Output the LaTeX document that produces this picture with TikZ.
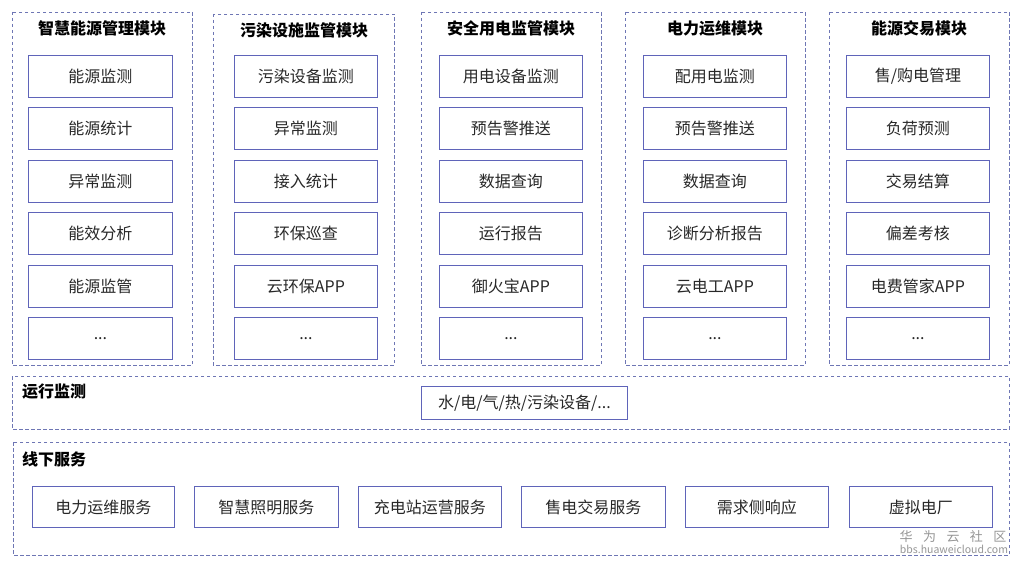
\documentclass[tikz,border=0pt]{standalone}
\usepackage{fontspec}
\setmainfont{Noto Sans CJK SC}
\definecolor{dashc}{RGB}{110,118,180}
\definecolor{boxc}{RGB}{95,100,185}
\definecolor{txtc}{RGB}{40,40,40}
\definecolor{wmc}{RGB}{150,150,150}
\newcommand{\myell}{...}
\tikzset{
  grp/.style={draw=dashc, line width=0.8pt, dash pattern=on 3.5pt off 2.5pt},
  itembox/.style={draw=boxc, line width=0.9pt, fill=white, inner sep=0pt, text=txtc, font=\fontsize{16}{18}\selectfont},
  ttl/.style={font=\fontsize{16}{19}\selectfont\bfseries, text=black, inner sep=0pt},
}
\begin{document}
\begin{tikzpicture}[x=1pt,y=-1pt]
\useasboundingbox (0,0) rectangle (1022,569);
\fill[white] (0,0) rectangle (1022,569);
% module groups
\draw[grp] (12,12) rectangle (192,365);
\draw[grp] (213,14) rectangle (394,365);
\draw[grp] (421,12) rectangle (601,365);
\draw[grp] (625,12) rectangle (805,365);
\draw[grp] (829,12) rectangle (1009,365);
\node[ttl] (t1) at (102,28) {智慧能源管理模块};
\node[ttl] (t2) at (304,30) {污染设施监管模块};
\node[ttl] (t3) at (511,28) {安全用电监管模块};
\node[ttl] (t4) at (715,28) {电力运维模块};
\node[ttl] (t5) at (919,28) {能源交易模块};
% column items
\newcommand{\colitems}[4]{%
  \foreach \lab [count=\i] in {#3} {
    \pgfmathsetmacro{\yt}{55+(\i-1)*52.4}
    \node[itembox, minimum width=#2pt-#1pt, minimum height=42pt, anchor=north west] (#4\i) at (#1,\yt) {\lab};
  }}
\colitems{28}{172}{能源监测,能源统计,异常监测,能效分析,能源监管,\myell}{a}
\colitems{234}{377}{污染设备监测,异常监测,接入统计,环保巡查,云环保APP,\myell}{b}
\colitems{439}{582}{用电设备监测,预告警推送,数据查询,运行报告,御火宝APP,\myell}{c}
\colitems{643}{786}{配用电监测,预告警推送,数据查询,诊断分析报告,云电工APP,\myell}{d}
\colitems{846}{989}{售/购电管理,负荷预测,交易结算,偏差考核,电费管家APP,\myell}{e}
% run monitoring
\draw[grp] (12,376) rectangle (1009,429);
\node[ttl, anchor=west] (rm) at (22,392) {运行监测};
\node[itembox, minimum width=206pt, minimum height=33pt, anchor=north west] (rmb) at (421,386) {水/电/气/热/污染设备/\myell};
% offline services
\draw[grp] (13,442) rectangle (1009,555);
\node[ttl, anchor=west] (os) at (22,459) {线下服务};
\foreach \xa/\xb/\lab [count=\i] in {32/174/电力运维服务,194/338/智慧照明服务,358/501/充电站运营服务,521/665/售电交易服务,685/828/需求侧响应,849/992/虚拟电厂} {
  \node[itembox, minimum width=\xb pt-\xa pt, minimum height=41pt, anchor=north west] (s\i) at (\xa,486) {\lab};
}
% watermark
\node[text=wmc, font=\fontsize{13}{15}\selectfont, inner sep=0pt] (wm1) at (953,537) {华\hspace{0.8em}为\hspace{0.8em}云\hspace{0.8em}社\hspace{0.8em}区};
\node[text=wmc, font=\fontsize{10.5}{12}\selectfont, inner sep=0pt] (wm2) at (954,549) {bbs.huaweicloud.com};
\end{tikzpicture}
\end{document}
